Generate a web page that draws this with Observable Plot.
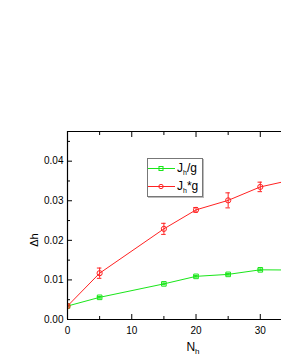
<!DOCTYPE html>
<html><head><meta charset="utf-8">
<script src="https://cdn.jsdelivr.net/npm/d3@7"></script>
<script src="https://cdn.jsdelivr.net/npm/@observablehq/plot@0.6"></script>
<style>
body{margin:0;background:#fff;font-family:"Liberation Sans",Arial,sans-serif}
#wrap{position:relative;width:281px;height:363px;overflow:hidden}
#legend{position:absolute;left:147px;top:158px;width:54px;height:37px;border:1px solid #777;box-shadow:1px 1px 0 #bbb;background:#fff;font-size:12px;color:#000}
.row{position:absolute;left:0;height:16px;display:flex;align-items:center}
.row svg{display:block}
.row span{margin-left:2px;white-space:nowrap}
sub{font-size:7px;vertical-align:-3px}
</style>
</head><body><div id="wrap"></div>
<script>
const nh = [0, 5, 15, 20, 25, 30, 35];
const jhDivG = [0.0034, 0.0056, 0.0090, 0.0109, 0.0114, 0.01255, 0.0125];
const errDivG = [0.0002, 0.0002, 0.0002, 0.0002, 0.0002, 0.0002, 0.0002];
const jhTimesG = [0.0034, 0.0117, 0.0229, 0.0277, 0.0301, 0.0335, 0.0353];
const errTimesG = [0.0002, 0.0013, 0.0014, 0.0006, 0.0019, 0.0012, 0.0012];
const xMajor = [0, 10, 20, 30];
const xMinor = [5, 15, 25];
const yMajor = [0, 0.01, 0.02, 0.03, 0.04];
const yMinor = [0.005, 0.015, 0.025, 0.035, 0.045];
const green = "#19e619", red = "#ff2222";

const green_d = nh.map((x, i) => ({x, y: jhDivG[i], e: errDivG[i]}));
const red_d = nh.map((x, i) => ({x, y: jhTimesG[i], e: errTimesG[i]}));

function series(data, color, symbol) {
  return [
    Plot.line(data, {x: "x", y: "y", stroke: color, strokeWidth: 1, clip: true}),
    Plot.ruleX(data, {x: "x", y1: d => d.y - d.e, y2: d => d.y + d.e, stroke: color, strokeWidth: 1, clip: true}),
    Plot.ruleY(data, {y: d => d.y - d.e, x1: d => d.x - 0.35, x2: d => d.x + 0.35, stroke: color, clip: true}),
    Plot.ruleY(data, {y: d => d.y + d.e, x1: d => d.x - 0.35, x2: d => d.x + 0.35, stroke: color, clip: true}),
    Plot.dot(data, {x: "x", y: "y", stroke: color, fill: "none", symbol, r: 2.6, strokeWidth: 1, clip: true})
  ];
}
const blank = () => "";

const chart = Plot.plot({
  width: 281, height: 363,
  marginLeft: 67, marginTop: 131, marginBottom: 44, marginRight: 0,
  style: {fontFamily: "'Liberation Sans', Arial, sans-serif", fontSize: "10px", color: "#000", background: "#fff"},
  x: {domain: [0, 33.3], axis: null},
  y: {domain: [0, 0.0475], axis: null},
  marks: [
    ...series(green_d, green, "square"),
    ...series(red_d, red, "circle"),
    Plot.axisX(xMajor, {anchor: "bottom", label: null, tickSize: -5, tickPadding: 12, tickFormat: d => d, fontSize: 10}),
    Plot.axisX(xMinor, {anchor: "bottom", label: null, tickSize: -3, tickFormat: blank}),
    Plot.axisX(xMajor, {anchor: "top", label: null, tickSize: -5, tickFormat: blank}),
    Plot.axisX(xMinor, {anchor: "top", label: null, tickSize: -3, tickFormat: blank}),
    Plot.axisY(yMajor, {anchor: "left", label: null, tickSize: -5, tickPadding: 9, tickFormat: d3.format(".2f"), fontSize: 10}),
    Plot.axisY(yMinor, {anchor: "left", label: null, tickSize: -3, tickFormat: blank}),
    Plot.ruleX([0], {stroke: "#000", strokeWidth: 1.2}),
    Plot.ruleY([0], {stroke: "#000", strokeWidth: 1.2}),
    Plot.ruleY([0.0475], {stroke: "#000", strokeWidth: 1.2})
  ]
});
const wrap = document.getElementById("wrap");
wrap.appendChild(chart);

const svg = d3.select(chart);
svg.append("text").attr("transform", "translate(38,240) rotate(-90)").attr("text-anchor", "middle")
  .attr("font-size", 11).text("Δh");
const nt = svg.append("text").attr("x", 193).attr("y", 351).attr("text-anchor", "middle").attr("font-size", 12);
nt.append("tspan").text("N");
nt.append("tspan").attr("font-size", 8).attr("dy", 3).text("h");

const leg = document.createElement("div");
leg.id = "legend";
function row(top, color, sym, html) {
  const r = document.createElement("div");
  r.className = "row"; r.style.top = top + "px";
  const marker = sym === "square"
    ? `<rect x="11" y="0.5" width="4" height="4" fill="none" stroke="${color}"/>`
    : `<circle cx="13" cy="2.5" r="2.2" fill="none" stroke="${color}"/>`;
  r.innerHTML = `<svg width="27" height="5"><line x1="0" x2="27" y1="2.5" y2="2.5" stroke="${color}"/>${marker}</svg><span>${html}</span>`;
  leg.appendChild(r);
}
row(1, green, "square", "J<sub>h</sub>/g");
row(19, red, "circle", "J<sub>h</sub>*g");
wrap.appendChild(leg);
</script>
</body></html>
